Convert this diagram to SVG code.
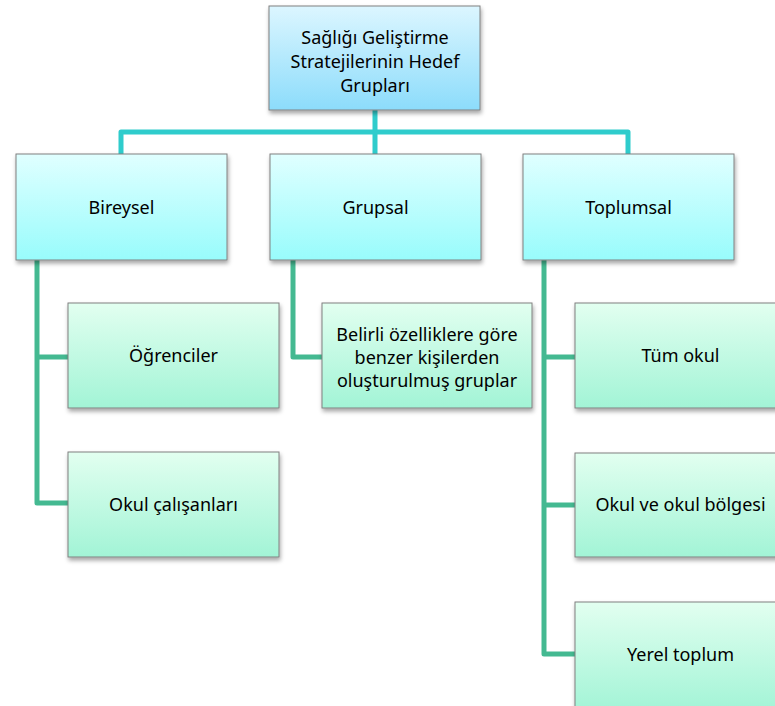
<svg xmlns="http://www.w3.org/2000/svg" width="775" height="706" viewBox="0 0 775 706">
<style>
  text { font-family: "Noto Sans", "Open Sans", sans-serif; font-size: 18px; fill: #000; text-anchor: middle; }
  .box { stroke: #808080; stroke-width: 1; }
  .c1 { fill: none; stroke: #2fcccc; stroke-width: 5; stroke-linejoin: round; }
  .c2 { fill: none; stroke: #44b991; stroke-width: 5; stroke-linejoin: round; }
</style>
<defs>
  <linearGradient id="gTop" x1="0" y1="0" x2="0" y2="1">
    <stop offset="0" stop-color="#dcf6ff"/>
    <stop offset="1" stop-color="#8cdcfb"/>
  </linearGradient>
  <linearGradient id="gL1" x1="0" y1="0" x2="0" y2="1">
    <stop offset="0" stop-color="#e0ffff"/>
    <stop offset="1" stop-color="#98fcfc"/>
  </linearGradient>
  <linearGradient id="gL2" x1="0" y1="0" x2="0" y2="1">
    <stop offset="0" stop-color="#e2fff0"/>
    <stop offset="1" stop-color="#a2f4d6"/>
  </linearGradient>
  <filter id="sh" x="-10%" y="-10%" width="125%" height="135%">
    <feDropShadow dx="1" dy="3" stdDeviation="2" flood-color="#000" flood-opacity="0.35"/>
  </filter>
</defs>

<g id="connectors">
  <path class="c1" d="M375 110 V132 M121 154 V132 H628 V154 M375 132 V154"/>
  <path class="c2" d="M37 260 V503 H68 M37 357 H68"/>
  <path class="c2" d="M293 260 V357 H322"/>
  <path class="c2" d="M544 260 V654 H575 M544 357 H575 M544 505 H575"/>
</g>

<g id="root">
  <rect class="box" x="269" y="6" width="211" height="104" fill="url(#gTop)" filter="url(#sh)"/>
  <text x="375" y="44">Sağlığı Geliştirme</text>
  <text x="375" y="68">Stratejilerinin Hedef</text>
  <text x="375" y="92">Grupları</text>
</g>

<g id="bireysel">
  <rect class="box" x="16" y="154" width="211" height="106" fill="url(#gL1)" filter="url(#sh)"/>
  <text x="121.5" y="214">Bireysel</text>
</g>
<g id="grupsal">
  <rect class="box" x="270" y="154" width="211" height="106" fill="url(#gL1)" filter="url(#sh)"/>
  <text x="375.5" y="214">Grupsal</text>
</g>
<g id="toplumsal">
  <rect class="box" x="523" y="154" width="211" height="106" fill="url(#gL1)" filter="url(#sh)"/>
  <text x="628.5" y="214">Toplumsal</text>
</g>

<g id="ogrenciler">
  <rect class="box" x="68" y="303" width="211" height="105" fill="url(#gL2)" filter="url(#sh)"/>
  <text x="173.5" y="362">Öğrenciler</text>
</g>
<g id="okul-calisanlari">
  <rect class="box" x="68" y="452" width="211" height="105" fill="url(#gL2)" filter="url(#sh)"/>
  <text x="173.5" y="511">Okul çalışanları</text>
</g>

<g id="belirli">
  <rect class="box" x="322" y="303" width="210" height="105" fill="url(#gL2)" filter="url(#sh)"/>
  <text x="427" y="341">Belirli özelliklere göre</text>
  <text x="427" y="364">benzer kişilerden</text>
  <text x="427" y="387">oluşturulmuş gruplar</text>
</g>

<g id="tum-okul">
  <rect class="box" x="575" y="303" width="211" height="105" fill="url(#gL2)" filter="url(#sh)"/>
  <text x="680.5" y="362">Tüm okul</text>
</g>
<g id="okul-bolgesi">
  <rect class="box" x="575" y="453" width="211" height="104" fill="url(#gL2)" filter="url(#sh)"/>
  <text x="680.5" y="511">Okul ve okul bölgesi</text>
</g>
<g id="yerel-toplum">
  <rect class="box" x="575" y="602" width="211" height="110" fill="url(#gL2)" filter="url(#sh)"/>
  <text x="680.5" y="661">Yerel toplum</text>
</g>
</svg>
